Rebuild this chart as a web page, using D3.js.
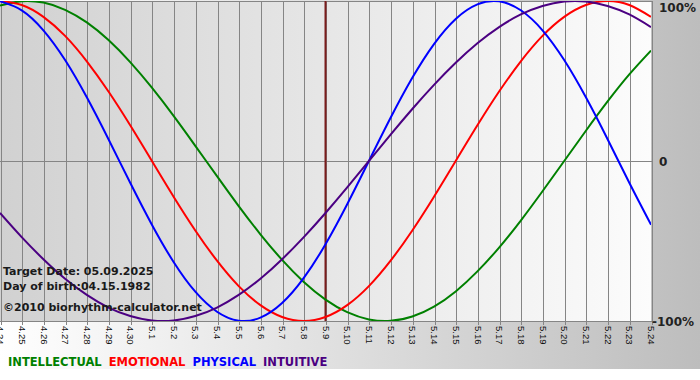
<!DOCTYPE html>
<html>
<head>
<meta charset="utf-8">
<script src="https://cdn.jsdelivr.net/npm/d3@7"></script>
<style>
  body { margin: 0; background: #fff; }
  svg { display: block; }
</style>
</head>
<body>
<svg id="chart"></svg>
<script>
// Day labels along the bottom (month.day)
const days = ["4.24", "4.25", "4.26", "4.27", "4.28", "4.29", "4.30",
  "5.1", "5.2", "5.3", "5.4", "5.5", "5.6", "5.7", "5.8", "5.9", "5.10",
  "5.11", "5.12", "5.13", "5.14", "5.15", "5.16", "5.17", "5.18", "5.19",
  "5.20", "5.21", "5.22", "5.23", "5.24"];

// Cycle values per day (-1 .. 1)
const intellectual = [0.972, 0.999, 0.990, 0.945, 0.866, 0.756, 0.618, 0.458, 0.282, 0.095,
  -0.095, -0.282, -0.458, -0.618, -0.756, -0.866, -0.945, -0.990, -0.999, -0.972,
  -0.910, -0.815, -0.690, -0.541, -0.372, -0.189, 0.000, 0.189, 0.372, 0.541, 0.690];
const emotional = [1.000, 0.975, 0.901, 0.782, 0.623, 0.434, 0.223, 0.000, -0.223, -0.434,
  -0.623, -0.782, -0.901, -0.975, -1.000, -0.975, -0.901, -0.782, -0.623, -0.434,
  -0.223, 0.000, 0.223, 0.434, 0.623, 0.782, 0.901, 0.975, 1.000, 0.975, 0.901];
const physical = [0.998, 0.942, 0.817, 0.631, 0.398, 0.136, -0.136, -0.398, -0.631, -0.817,
  -0.942, -0.998, -0.979, -0.888, -0.731, -0.520, -0.270, 0.000, 0.270, 0.520,
  0.731, 0.888, 0.979, 0.998, 0.942, 0.817, 0.631, 0.398, 0.136, -0.136, -0.398];
const intuitive = [-0.325, -0.476, -0.614, -0.736, -0.837, -0.916, -0.969, -0.997, -0.997, -0.969,
  -0.916, -0.837, -0.736, -0.614, -0.476, -0.325, -0.165, 0.000, 0.165, 0.325,
  0.476, 0.614, 0.736, 0.837, 0.916, 0.969, 0.997, 0.997, 0.969, 0.916, 0.837];

const yTicks = [1, 0, -1];
const yTickLabels = ["100%", "0", "-100%"];
const targetIndex = 15; // 5.9
const infoLines = ["Target Date: 05.09.2025", "Day of birth:04.15.1982"];
const credit = "\u00a92010 biorhythm-calculator.net";

const series = [
  { name: "INTELLECTUAL", values: intellectual, color: "#008000" },
  { name: "EMOTIONAL", values: emotional, color: "#ff0000" },
  { name: "PHYSICAL", values: physical, color: "#0000ff" },
  { name: "INTUITIVE", values: intuitive, color: "#4b0082" }
];

const width = 700, height = 380;
const plotW = 651, plotTop = 1, plotBottom = 321;

const svg = d3.select("#chart")
  .attr("width", width)
  .attr("height", height)
  .style("font-family", "'DejaVu Sans', sans-serif");

const defs = svg.append("defs");
const bgGrad = defs.append("linearGradient").attr("id", "bgGrad");
bgGrad.append("stop").attr("offset", "0%").attr("stop-color", "#ffffff");
bgGrad.append("stop").attr("offset", "100%").attr("stop-color", "#bdbdbd");
const plotGrad = defs.append("linearGradient").attr("id", "plotGrad");
plotGrad.append("stop").attr("offset", "0%").attr("stop-color", "#d1d1d1");
plotGrad.append("stop").attr("offset", "100%").attr("stop-color", "#fcfcfc");
defs.append("clipPath").attr("id", "plotClip")
  .append("rect").attr("x", 0).attr("y", plotTop).attr("width", plotW).attr("height", plotBottom - plotTop);

// Scales
const x = d3.scaleLinear().domain([0, days.length - 1]).range([0, plotW]);
const y = d3.scaleLinear().domain([-1, 1]).range([plotBottom, plotTop]);

// Backgrounds
svg.append("rect").attr("width", width).attr("height", 369).attr("fill", "url(#bgGrad)");
svg.append("rect").attr("x", 0).attr("y", plotTop).attr("width", plotW)
  .attr("height", plotBottom - plotTop).attr("fill", "url(#plotGrad)");

// Vertical grid + tick marks via the bottom axis
const xAxis = d3.axisBottom(x)
  .tickValues(d3.range(days.length))
  .tickFormat(i => days[i])
  .tickSizeInner(-(plotBottom - plotTop) - 4)
  .tickSizeOuter(0);

const gx = svg.append("g")
  .attr("transform", `translate(0, ${plotBottom + 4})`)
  .call(xAxis);
gx.select(".domain").remove();
gx.selectAll(".tick line").attr("stroke", "#858585").attr("shape-rendering", "crispEdges")
  .attr("transform", "translate(0.5,0)");
gx.selectAll(".tick text")
  .attr("transform", "rotate(90)")
  .attr("x", 1)
  .attr("y", 0)
  .attr("dy", "0.35em")
  .attr("text-anchor", "start")
  .attr("fill", "#111")
  .style("font-family", "'Liberation Sans', sans-serif")
  .style("font-size", "9.5px");

// Horizontal lines: top, zero, bottom
svg.selectAll(".hline")
  .data(yTicks)
  .enter()
  .append("line")
  .attr("x1", 0)
  .attr("x2", plotW + 1)
  .attr("y1", d => Math.round(y(d)) + 0.5)
  .attr("y2", d => Math.round(y(d)) + 0.5)
  .attr("stroke", "#858585");

// Target date marker
svg.append("line")
  .attr("x1", x(targetIndex))
  .attr("x2", x(targetIndex))
  .attr("y1", plotTop)
  .attr("y2", plotBottom)
  .attr("stroke", "#7a1c1c")
  .attr("stroke-width", 2);

// Curves
const line = d3.line()
  .x((d, i) => x(i))
  .y(d => y(d))
  .curve(d3.curveNatural);

svg.append("g")
  .attr("clip-path", "url(#plotClip)")
  .selectAll(".curve")
  .data(series)
  .enter()
  .append("path")
  .attr("fill", "none")
  .attr("stroke", d => d.color)
  .attr("stroke-width", 2)
  .attr("d", d => line(d.values));

// Right-hand labels
svg.selectAll(".ylab")
  .data(yTicks)
  .enter()
  .append("text")
  .attr("x", d => d < 0 ? 652 : 659)
  .attr("y", d => d > 0 ? y(d) + 11 : y(d) + 5)
  .attr("fill", "#222")
  .style("font-weight", "bold")
  .style("font-size", "12px")
  .text((d, i) => yTickLabels[i]);

// Info text block
svg.selectAll(".info")
  .data(infoLines)
  .enter()
  .append("text")
  .attr("x", 3)
  .attr("y", (d, i) => 275 + i * 15)
  .attr("fill", "#1a1a1a")
  .style("font-weight", "bold")
  .style("font-size", "11px")
  .text(d => d);

svg.append("text")
  .attr("x", 3)
  .attr("y", 311)
  .attr("fill", "#1a1a1a")
  .style("font-weight", "bold")
  .style("font-size", "11px")
  .text(credit);

// Legend
let lx = 8;
series.forEach(s => {
  const t = svg.append("text")
    .attr("x", lx)
    .attr("y", 366)
    .attr("fill", s.color)
    .style("font-weight", "bold")
    .style("font-size", "11.5px")
    .text(s.name);
  lx += t.node().getComputedTextLength() + 7;
});
</script>
</body>
</html>
